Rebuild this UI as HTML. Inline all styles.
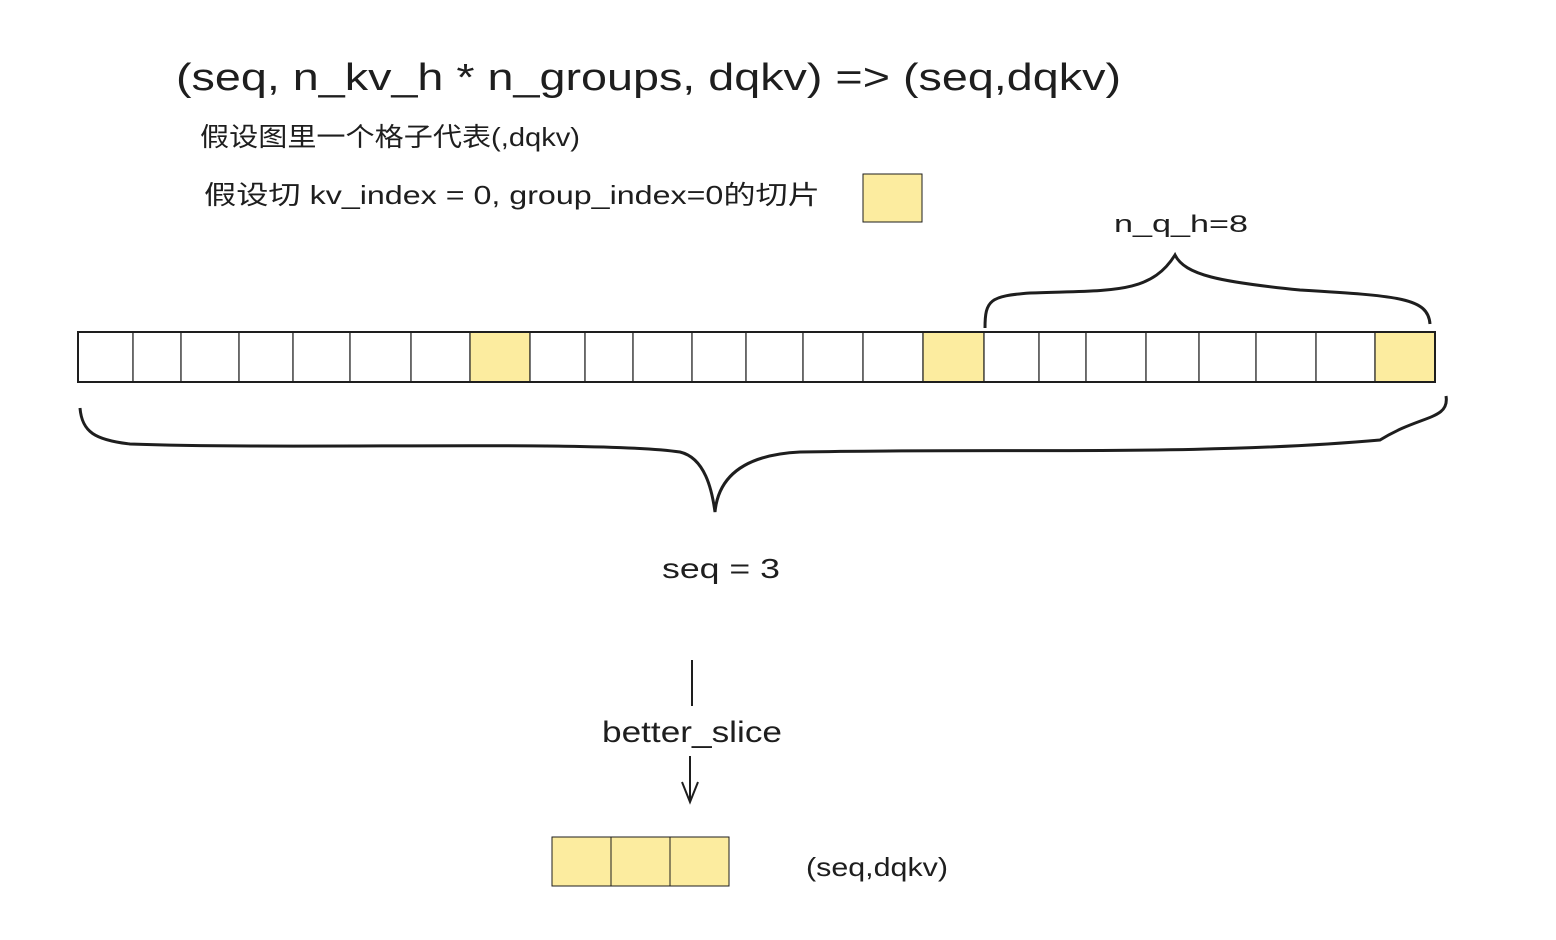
<!DOCTYPE html>
<html><head><meta charset="utf-8"><style>
html,body{margin:0;padding:0;background:#fff;}
svg{display:block;}
text{font-family:"Liberation Sans","Noto Sans CJK SC",sans-serif;fill:#1e1e1e;}
</style></head><body>
<svg width="1556" height="940" viewBox="0 0 1556 940">
<text x="176" y="90" font-size="38" textLength="945" lengthAdjust="spacingAndGlyphs">(seq, n_kv_h * n_groups, dqkv) =&gt; (seq,dqkv)</text>
<text x="200" y="146" font-size="26" textLength="380" lengthAdjust="spacingAndGlyphs">假设图里一个格子代表(,dqkv)</text>
<text x="204" y="204" font-size="26" textLength="616" lengthAdjust="spacingAndGlyphs">假设切 kv_index = 0, group_index=0的切片</text>
<rect x="863" y="174" width="59" height="48" fill="#fcec9f" stroke="#1e1e1e" stroke-width="1"/>
<text x="1114" y="232" font-size="24" textLength="134" lengthAdjust="spacingAndGlyphs">n_q_h=8</text>
<path d="M985 328 C985 300 990 296 1030 293 C1110 290 1150 295 1175 255 C1185 275 1220 282 1300 290 C1400 296 1428 298 1430 324" fill="none" stroke="#1e1e1e" stroke-width="3"/>
<g id="strip"></g>
<path d="M80 408 C82 432 95 440 130 444 C300 450 600 440 680 452 C705 458 712 490 715 512 C718 480 740 455 800 452 C1000 448 1200 456 1380 440 C1420 415 1450 420 1446 396" fill="none" stroke="#1e1e1e" stroke-width="3"/>
<text x="662" y="578" font-size="28" textLength="118" lengthAdjust="spacingAndGlyphs">seq = 3</text>
<line x1="692" y1="660" x2="692" y2="706" stroke="#1e1e1e" stroke-width="2"/>
<text x="602" y="742" font-size="30" textLength="180" lengthAdjust="spacingAndGlyphs">better_slice</text>
<path d="M690 756 L690 802 M682 782 L690 802 L698 782" fill="none" stroke="#1e1e1e" stroke-width="2"/>
<rect x="552" y="837" width="59" height="49" fill="#fcec9f" stroke="#1e1e1e" stroke-width="1"/>
<rect x="611" y="837" width="59" height="49" fill="#fcec9f" stroke="#1e1e1e" stroke-width="1"/>
<rect x="670" y="837" width="59" height="49" fill="#fcec9f" stroke="#1e1e1e" stroke-width="1"/>
<text x="806" y="876" font-size="26" textLength="142" lengthAdjust="spacingAndGlyphs">(seq,dqkv)</text>
</svg>
<script>
const cellEdges=[78,133,181,239,293,350,411,470,530,585,633,692,746,803,863,923,984,1039,1086,1146,1199,1256,1316,1375,1435];
const highlighted=[7,15,23];
const g=document.getElementById('strip');
const NS='http://www.w3.org/2000/svg';
for(let i=0;i<cellEdges.length-1;i++){
  const r=document.createElementNS(NS,'rect');
  r.setAttribute('x',cellEdges[i]);r.setAttribute('y',332);
  r.setAttribute('width',cellEdges[i+1]-cellEdges[i]);r.setAttribute('height',50);
  r.setAttribute('fill',highlighted.includes(i)?'#fcec9f':'#fff');
  r.setAttribute('stroke','#1e1e1e');r.setAttribute('stroke-width','1.2');
  
  
  g.appendChild(r);
}
const o=document.createElementNS(NS,'rect');
o.setAttribute('x',78);o.setAttribute('y',332);o.setAttribute('width',1357);o.setAttribute('height',50);
o.setAttribute('fill','none');o.setAttribute('stroke','#1e1e1e');o.setAttribute('stroke-width','2');


g.appendChild(o);
</script>
</body></html>
